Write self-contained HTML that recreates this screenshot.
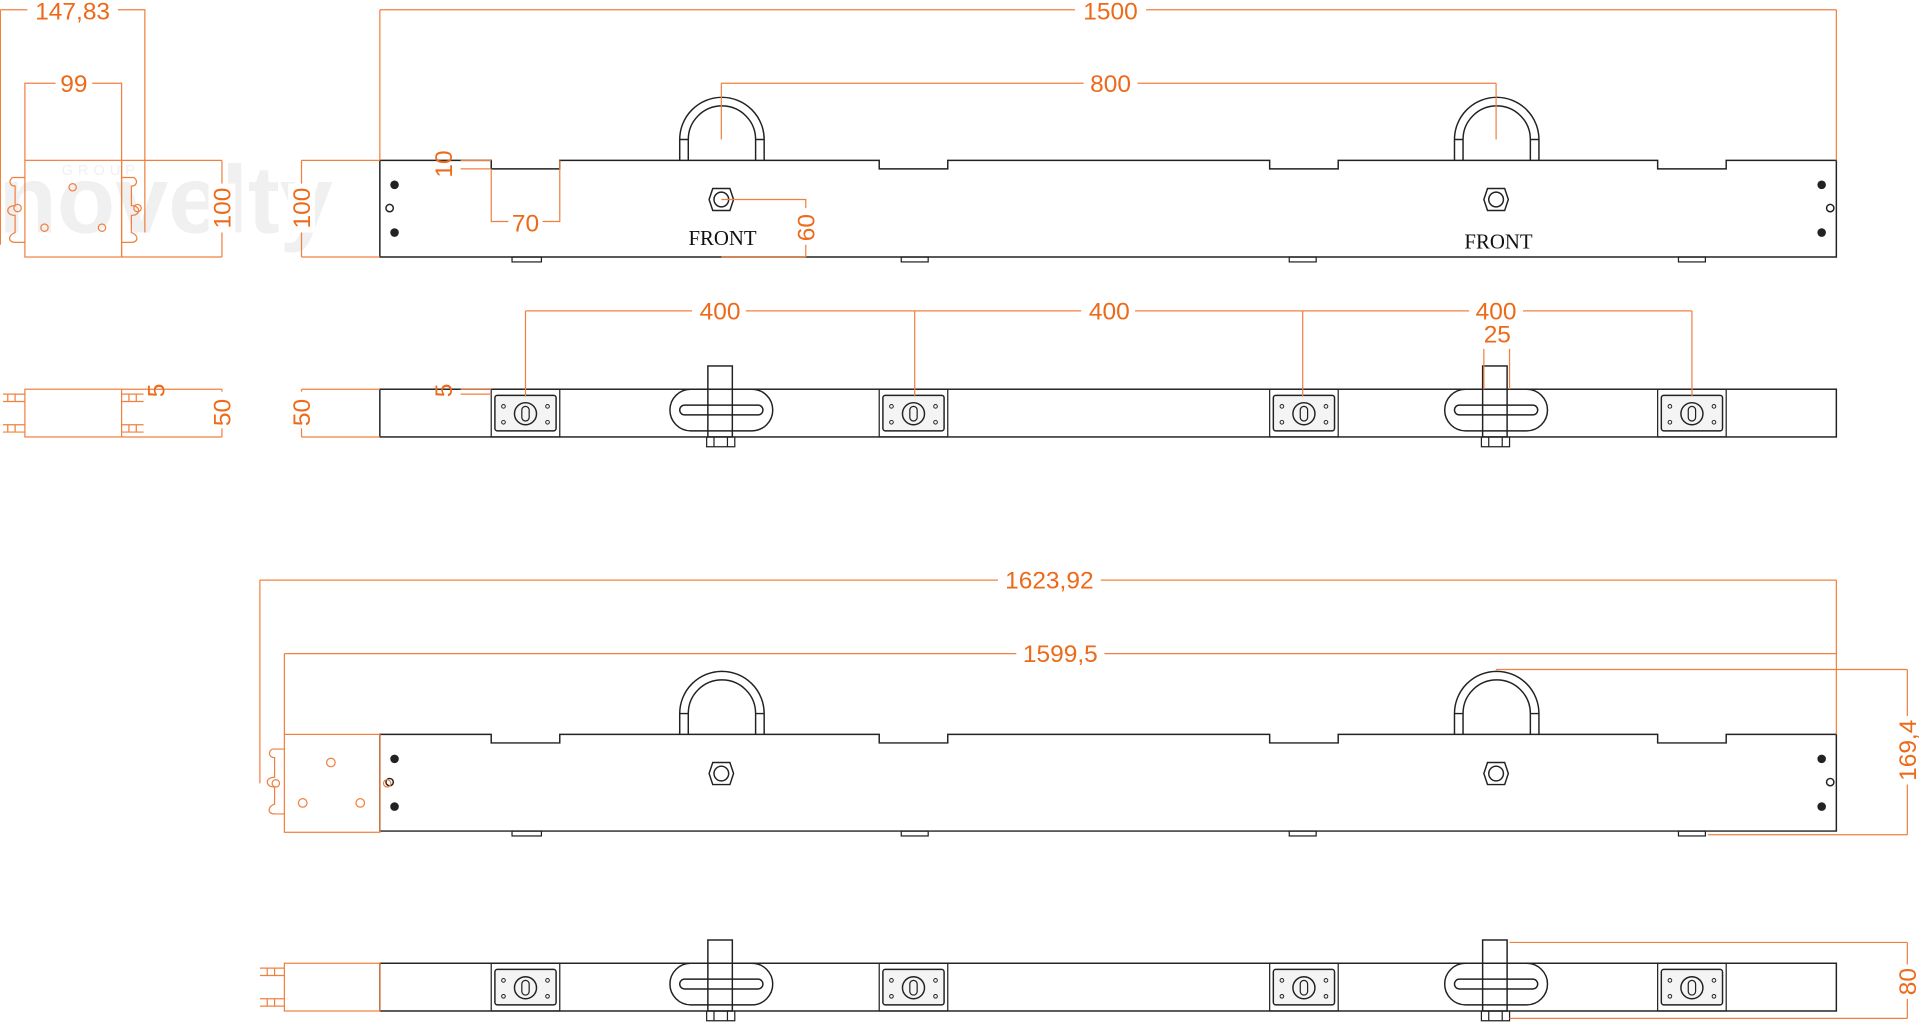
<!DOCTYPE html>
<html><head><meta charset="utf-8"><style>html,body{margin:0;padding:0;background:#fff;overflow:hidden}svg{display:block}</style></head><body>
<svg width="1920" height="1022" viewBox="0 0 1568 835" xmlns="http://www.w3.org/2000/svg" font-family="Liberation Sans, sans-serif">
<defs>
<g id="top">
 <path d="M310 131H401V138H457V131H718V138H774V131H1037V138H1093V131H1354V138H1410V131H1500V210H310Z" fill="#fff" stroke="#222" stroke-width="1.2"/>
 <g fill="none" stroke="#222" stroke-width="1"><rect x="418" y="210" width="24" height="4"/><rect x="736" y="210" width="22" height="4"/><rect x="1053" y="210" width="22" height="4"/><rect x="1371" y="210" width="22" height="4"/></g>
 <g fill="none" stroke="#222" stroke-width="1.2">
  <path d="M555 131V114A34 34 0 0 1 624 114V131M562 131V114A27 27 0 0 1 617 114V131M555 114H562M617 114H624"/>
  <path d="M1188 131V114A34 34 0 0 1 1257 114V131M1195 131V114A27 27 0 0 1 1250 114V131M1188 114H1195M1250 114H1257"/>
  <polygon points="582,154 596,154 599,163 596,172 582,172 579,163"/><circle cx="589" cy="163" r="6"/>
  <polygon points="1215,154 1229,154 1232,163 1229,172 1215,172 1212,163"/><circle cx="1222" cy="163" r="6"/>
  <circle cx="318" cy="170" r="3"/><circle cx="1495" cy="170" r="3"/>
 </g>
 <g fill="#222"><circle cx="322" cy="151" r="3.5"/><circle cx="322" cy="190" r="3.5"/><circle cx="1488" cy="151" r="3.5"/><circle cx="1488" cy="190" r="3.5"/></g>
</g>
<g id="lock">
 <rect x="0" y="0" width="56" height="39" fill="none" stroke="#222" stroke-width="1"/>
 <rect x="3" y="5" width="50" height="29" rx="2" fill="#f4f4f4" stroke="#222" stroke-width="1.2"/>
 <circle cx="28" cy="20" r="9" fill="none" stroke="#222" stroke-width="1.2"/><rect x="25" y="14" width="6" height="12" rx="3" fill="none" stroke="#222"/>
 <g fill="none" stroke="#222" stroke-width="0.8"><circle cx="10" cy="14" r="1.5"/><circle cx="46" cy="14" r="1.5"/><circle cx="10" cy="27" r="1.5"/><circle cx="46" cy="27" r="1.5"/></g>
</g>
<g id="slot">
 <rect x="-42" y="-17" width="84" height="34" rx="17" fill="#fff" stroke="#222" stroke-width="1.2"/>
 <rect x="-34" y="-4" width="68" height="8" rx="4" fill="none" stroke="#222" stroke-width="1.2"/>
 <rect x="-11" y="-36" width="20" height="58" fill="none" stroke="#222" stroke-width="1.2"/>
 <path d="M-12 22V30H11V22M-6 22V30M5 22V30" fill="none" stroke="#222"/>
</g>
<g id="side">
 <rect x="310" y="318" width="1190" height="39" fill="#fff" stroke="#222" stroke-width="1.2"/>
 <use href="#lock" x="401" y="318"/><use href="#lock" x="718" y="318"/><use href="#lock" x="1037" y="318"/><use href="#lock" x="1354" y="318"/>
 <use href="#slot" x="589" y="335"/><use href="#slot" x="1222" y="335"/>
</g>
</defs>

<text x="135" y="190" font-size="78" font-weight="bold" fill="#f0f0f0" text-anchor="middle">novelty</text>
<text x="50" y="143" font-size="12" fill="#f0f0f0" letter-spacing="4">GROUP</text>

<use href="#top"/>
<use href="#side"/>
<use href="#top" y="469"/>
<use href="#side" y="469"/>

<text x="590" y="200" font-family="Liberation Serif, serif" font-size="17" text-anchor="middle" fill="#111">FRONT</text>
<text x="1224" y="203" font-family="Liberation Serif, serif" font-size="17" text-anchor="middle" fill="#111">FRONT</text>

<g fill="none" stroke="#f08040" stroke-width="1">
 <rect x="20" y="131" width="79" height="79"/>
 <path d="M20 131V68H99V210M0 8H118V190M0 8V200M99 131H181M99 210H181M181 131V210"/>
 <path d="M20 145H10C6 148 8 152 12 152V168C4 168 4 176 12 176V190C6 192 6 198 12 198H20M99 145H109C113 148 111 152 107 152V168C115 168 115 176 107 176V190C113 192 113 198 107 198H99"/>
 <circle cx="59" cy="153" r="3"/><circle cx="36" cy="186" r="3"/><circle cx="83" cy="186" r="3"/><circle cx="14" cy="170" r="3"/><circle cx="112" cy="170" r="3"/>
 <rect x="20" y="318" width="79" height="39"/>
 <path d="M20 322H2M20 328H2M20 347H2M20 353H2M99 322H117M99 328H117M99 347H117M99 353H117M6 322V328M12 322V328M6 347V353M12 347V353M105 322V328M111 322V328M105 347V353M111 347V353"/>
 <path d="M99 318H181M99 357H181M181 318V357M246 318V357M246 318H310M246 357H310M376 318H401M376 322H401"/>
 <path d="M310 8H1500M310 8V131M1500 8V131M589 68H1222M589 68V114M1222 68V114"/>
 <path d="M246 131H310M246 210H310M246 131V210M376 131H401M376 138H401M401 138V181H457V131M589 163H658V210M589 210H658"/>
 <path d="M429 254H1382M429 254V324M747 254V324M1064 254V324M1382 254V324M1212 285V318M1233 285V318"/>
 <path d="M212 474H1500M212 474V640M1500 474V600M232 534H1500M232 534V600M1500 534V600M1222 547H1558M1395 682H1558M1558 547V682"/>
 <rect x="232" y="600" width="78" height="80"/>
 <path d="M232 612H222C218 615 220 619 224 619V635C216 635 216 643 224 643V657C218 659 218 665 224 665H232"/>
 <circle cx="270" cy="623" r="3.5"/><circle cx="247" cy="656" r="3.5"/><circle cx="294" cy="656" r="3.5"/><circle cx="225" cy="640" r="3"/><circle cx="316" cy="640" r="3"/>
 <rect x="232" y="787" width="78" height="39"/>
 <path d="M232 791H212M232 797H212M232 816H212M232 822H212M218 791V797M224 791V797M218 816V822M224 816V822"/>
 <path d="M1233 770H1558M1233 832H1558M1558 770V832"/>
</g>

<g fill="#ec6a1a" font-size="20" text-anchor="middle">
 <g fill="#fff" stroke="none">
  <rect x="22" y="0" width="74" height="18"/><rect x="45" y="58" width="30" height="20"/><rect x="878" y="0" width="58" height="18"/><rect x="885" y="58" width="44" height="20"/>
  <rect x="565" y="244" width="44" height="20"/><rect x="883" y="244" width="44" height="20"/><rect x="1200" y="244" width="44" height="20"/><rect x="415" y="171" width="28" height="20"/>
  <rect x="815" y="464" width="84" height="20"/><rect x="830" y="524" width="72" height="20"/>
  <rect x="170" y="150" width="22" height="40"/><rect x="235" y="150" width="22" height="40"/><rect x="170" y="320" width="22" height="30"/><rect x="235" y="320" width="22" height="30"/>
  <rect x="648" y="170" width="22" height="30"/><rect x="1548" y="585" width="22" height="56"/><rect x="1548" y="788" width="22" height="28"/>
 </g>
 <text x="59" y="16">147,83</text><text x="60" y="75">99</text><text x="907" y="16">1500</text><text x="907" y="75">800</text>
 <text x="429" y="189">70</text><text x="588" y="261">400</text><text x="906" y="261">400</text><text x="1222" y="261">400</text><text x="1223" y="280">25</text>
 <text x="857" y="481">1623,92</text><text x="866" y="541">1599,5</text>
 <text transform="translate(188,170) rotate(-90)">100</text>
 <text transform="translate(253,170) rotate(-90)">100</text>
 <text transform="translate(369,134) rotate(-90)">10</text>
 <text transform="translate(665,186) rotate(-90)">60</text>
 <text transform="translate(134,319) rotate(-90)">5</text>
 <text transform="translate(369,319) rotate(-90)">5</text>
 <text transform="translate(188,337) rotate(-90)">50</text>
 <text transform="translate(253,337) rotate(-90)">50</text>
 <text transform="translate(1565,613) rotate(-90)">169,4</text>
 <text transform="translate(1565,802) rotate(-90)">80</text>
</g>
</svg>
</body></html>
